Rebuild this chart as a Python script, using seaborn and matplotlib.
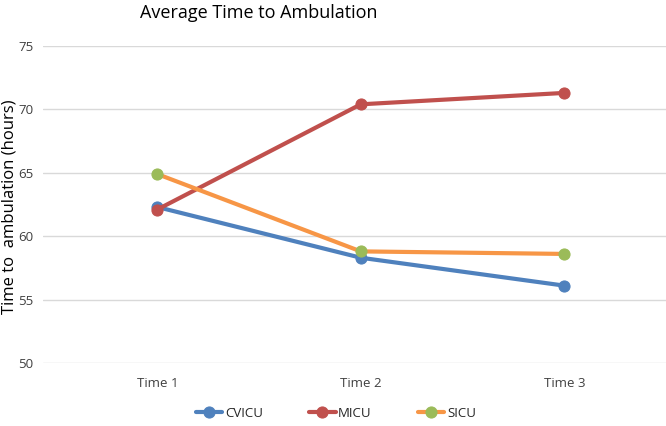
import pandas as pd
import seaborn as sns
import matplotlib.pyplot as plt

times = ["Time 1", "Time 2", "Time 3"]
cvicu = [62.3, 58.3, 56.1]
micu = [62.1, 70.4, 71.3]
sicu = [64.9, 58.8, 58.6]

units = ["CVICU", "MICU", "SICU"]
line_colors = ["#4F81BD", "#C0504D", "#F79646"]
marker_colors = ["#4F81BD", "#C0504D", "#9BBB59"]

data = pd.DataFrame({
    "Time": times * 3,
    "Unit": [u for u in units for _ in times],
    "Hours": cvicu + micu + sicu,
})

sns.set_theme(style="white")
plt.rcParams["font.family"] = ["Open Sans", "DejaVu Sans"]

fig = plt.figure(figsize=(6.66, 4.26), dpi=100)
ax = fig.add_axes([0.065, 0.148, 0.935, 0.744])

for unit, lc, mc in zip(units, line_colors, marker_colors):
    sub = data[data["Unit"] == unit]
    sns.lineplot(data=sub, x="Time", y="Hours", ax=ax, color=lc, linewidth=3,
                 marker="o", markersize=8, markerfacecolor=mc, markeredgecolor=mc,
                 label=unit, sort=False)

ax.set_ylim(50, 75)
ax.set_yticks([50, 55, 60, 65, 70, 75])
ax.set_xlim(-0.56, 2.5)
ax.yaxis.grid(True, color="#D9D9D9", linewidth=1)
ax.set_axisbelow(True)
for s in ax.spines.values():
    s.set_visible(False)
ax.tick_params(axis="both", length=0, labelsize=9.5, colors="#404040")
ax.tick_params(axis="x", pad=10)
ax.tick_params(axis="y", pad=7)
ax.set_xlabel("")
ax.set_ylabel("")
fig.text(0.014, 0.514, "Time to  ambulation (hours)", rotation=90, fontsize=12,
         ha="center", va="center", color="#000000")
fig.text(0.388, 0.97, "Average Time to Ambulation", fontsize=13,
         ha="center", va="center", color="#000000")

ax.legend(loc="upper center", bbox_to_anchor=(0.47, -0.1), ncol=3, frameon=False,
          fontsize=9.5, handlelength=2, columnspacing=3.5, handletextpad=0.2)

fig.savefig("out.png", dpi=100)
